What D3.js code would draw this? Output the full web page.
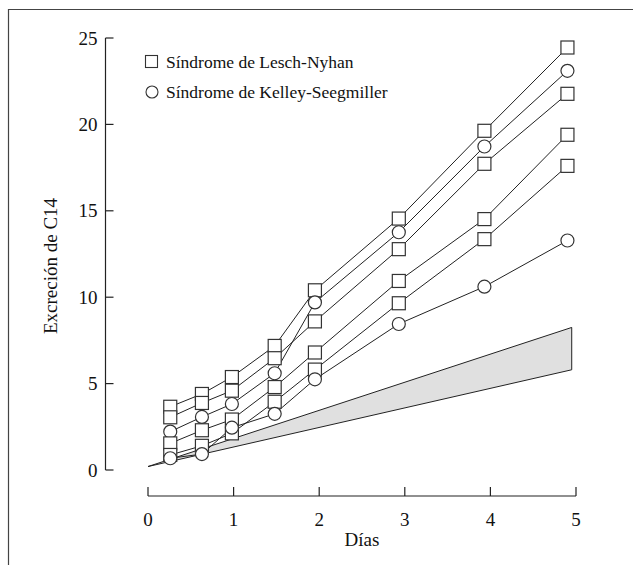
<!DOCTYPE html>
<html>
<head>
<meta charset="utf-8">
<script src="https://cdn.jsdelivr.net/npm/d3@7"></script>
<style>
  html, body { margin: 0; padding: 0; background: #fff; }
  svg { display: block; }
  text { font-family: "Liberation Serif", "DejaVu Serif", serif; fill: #111; }
</style>
</head>
<body>
<svg id="chart" width="633" height="565"></svg>
<script>
// ---- data ----
const days = [0.26, 0.63, 0.98, 1.48, 1.95, 2.93, 3.93, 4.9];
const lesch1 = [3.66, 4.4, 5.38, 7.18, 10.4, 14.55, 19.63, 24.45];
const lesch2 = [3.05, 3.88, 4.59, 6.47, 8.6, 12.78, 17.72, 21.77];
const lesch3 = [1.54, 2.3, 2.92, 4.8, 6.8, 10.94, 14.52, 19.4];
const lesch4 = [0.87, 1.4, 2.12, 3.95, 5.81, 9.65, 13.36, 17.6];
const kelley1 = [2.22, 3.07, 3.82, 5.6, 9.7, 13.76, 18.72, 23.1];
const kelley2 = [0.68, 0.92, 2.45, 3.25, 5.25, 8.45, 10.61, 13.28];
const bandDays = [0.0, 4.95];
const bandUpper = [0.2, 8.25];
const bandLower = [0.2, 5.8];
const xTicks = [0, 1, 2, 3, 4, 5];
const yTicks = [0, 5, 10, 15, 20, 25];
const legendLabels = ["Síndrome de Lesch-Nyhan", "Síndrome de Kelley-Seegmiller"];
const xTitle = "Días";
const yTitle = "Excreción de C14";

const series = [
  { values: lesch1, shape: "square" },
  { values: lesch2, shape: "square" },
  { values: kelley1, shape: "circle" },
  { values: lesch3, shape: "square" },
  { values: lesch4, shape: "square" },
  { values: kelley2, shape: "circle" }
];

// ---- layout ----
const svg = d3.select("#chart");
const x = d3.scaleLinear().domain([0, 5]).range([148, 576]);
const y = d3.scaleLinear().domain([0, 25]).range([470, 38]);

// frame
svg.append("path")
  .attr("d", "M8.5,565 L8.5,9.5 L633,9.5")
  .attr("fill", "none").attr("stroke", "#444").attr("stroke-width", 1.2);

// band
const bandData = bandDays.map((d, i) => ({ d, u: bandUpper[i], l: bandLower[i] }));
svg.append("path")
  .datum(bandData)
  .attr("d", d3.area().x(p => x(p.d)).y0(p => y(p.l)).y1(p => y(p.u)))
  .attr("fill", "#e0e0e0").attr("stroke", "#222").attr("stroke-width", 1)
  .attr("stroke-linejoin", "miter");

// x axis
const xAxis = svg.append("g").attr("transform", "translate(0,496)");
xAxis.append("line").attr("x1", x(0)).attr("x2", x(5)).attr("y1", 0).attr("y2", 0)
  .attr("stroke", "#222").attr("stroke-width", 1.2);
xAxis.selectAll(".xt").data(xTicks).join("line")
  .attr("x1", d => x(d)).attr("x2", d => x(d)).attr("y1", 0).attr("y2", -9)
  .attr("stroke", "#222").attr("stroke-width", 1.2);
xAxis.selectAll(".xl").data(xTicks).join("text")
  .attr("x", d => x(d)).attr("y", 30).attr("text-anchor", "middle")
  .attr("font-size", 19).text(d => d);
svg.append("text").attr("x", 362).attr("y", 546).attr("text-anchor", "middle")
  .attr("font-size", 19).text(xTitle);

// y axis
const yAxis = svg.append("g").attr("transform", "translate(105.5,0)");
yAxis.append("line").attr("x1", 0).attr("x2", 0).attr("y1", y(25)).attr("y2", y(0))
  .attr("stroke", "#222").attr("stroke-width", 1.2);
yAxis.selectAll(".yt").data(yTicks).join("line")
  .attr("x1", 0).attr("x2", 8).attr("y1", d => y(d)).attr("y2", d => y(d))
  .attr("stroke", "#222").attr("stroke-width", 1.2);
yAxis.selectAll(".yl").data(yTicks).join("text")
  .attr("x", -8).attr("y", d => y(d) + 6.5).attr("text-anchor", "end")
  .attr("font-size", 19).text(d => d);
svg.append("text")
  .attr("transform", "translate(57,266) rotate(-90)")
  .attr("text-anchor", "middle").attr("font-size", 19).text(yTitle);

// lines
const line = d3.line().x((v, i) => x(days[i])).y(v => y(v));
svg.selectAll(".series").data(series).join("path")
  .attr("d", s => line(s.values))
  .attr("fill", "none").attr("stroke", "#222").attr("stroke-width", 1);

// markers
const half = 6.5, r = 6.5;
series.forEach(s => {
  const g = svg.append("g");
  s.values.forEach((v, i) => {
    if (s.shape === "square") {
      g.append("rect").attr("x", x(days[i]) - half).attr("y", y(v) - half)
        .attr("width", half * 2).attr("height", half * 2)
        .attr("fill", "#fff").attr("stroke", "#333").attr("stroke-width", 1.2);
    } else {
      g.append("circle").attr("cx", x(days[i])).attr("cy", y(v)).attr("r", r)
        .attr("fill", "#fff").attr("stroke", "#333").attr("stroke-width", 1.2);
    }
  });
});

// legend
const lg = svg.append("g");
lg.append("rect").attr("x", 145.5).attr("y", 55.5).attr("width", 12).attr("height", 12)
  .attr("fill", "#fff").attr("stroke", "#333").attr("stroke-width", 1.1);
lg.append("text").attr("x", 166).attr("y", 68).attr("font-size", 17.5).text(legendLabels[0]);
lg.append("circle").attr("cx", 152).attr("cy", 92).attr("r", 6)
  .attr("fill", "#fff").attr("stroke", "#333").attr("stroke-width", 1.1);
lg.append("text").attr("x", 166).attr("y", 98).attr("font-size", 17.5).text(legendLabels[1]);
</script>
</body>
</html>
